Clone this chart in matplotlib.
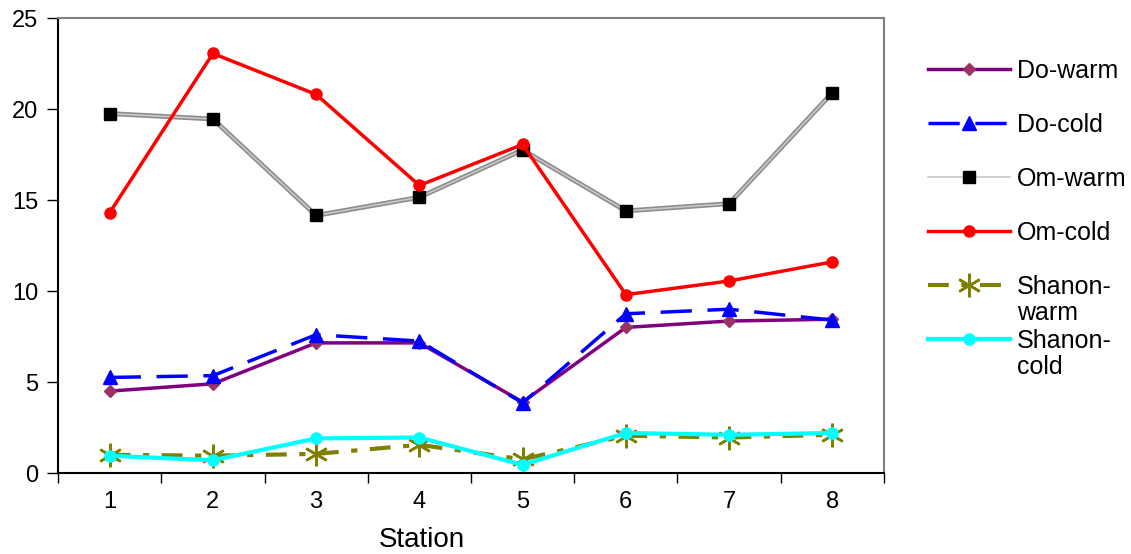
import matplotlib
matplotlib.use("Agg")
import matplotlib.pyplot as plt

plt.rcParams['font.family'] = ['Liberation Sans', 'DejaVu Sans']

stations = [1, 2, 3, 4, 5, 6, 7, 8]
do_warm = [4.5, 4.9, 7.15, 7.15, 3.9, 8.0, 8.35, 8.45]
do_cold = [5.25, 5.35, 7.6, 7.25, 3.85, 8.75, 9.0, 8.4]
om_warm = [19.75, 19.45, 14.15, 15.15, 17.75, 14.4, 14.8, 20.9]
om_cold = [14.3, 23.05, 20.8, 15.8, 18.05, 9.8, 10.55, 11.6]
shanon_warm = [1.0, 0.95, 1.05, 1.55, 0.75, 2.05, 1.95, 2.1]
shanon_cold = [0.95, 0.7, 1.9, 1.95, 0.45, 2.2, 2.1, 2.2]

fig = plt.figure(figsize=(11.31, 5.54), dpi=100)
ax = fig.add_axes([0.0513, 0.1462, 0.7303, 0.8213])

# category positions: stations sit in the middle of each slot
x = [s - 0.5 for s in stations]

ax.plot(x, do_warm, color='#800080', lw=2.5, marker='D', ms=6.5,
        mfc='#993366', mec='#993366', label='Do-warm')
ax.plot(x, do_cold, color='#0000ff', lw=2.5, dashes=(9, 4.5), marker='^', ms=10,
        mfc='#0000ff', mec='#0000ff', label='Do-cold')
ax.plot(x, om_warm, color='#8c8c8c', lw=3.5, zorder=2)
ax.plot(x, om_warm, color='#c8c8c8', lw=1.2, marker='s', ms=9,
        mfc='black', mec='black', label='Om-warm', zorder=2)
ax.plot(x, om_cold, color='#ff0000', lw=2.5, marker='o', ms=8,
        mfc='#ff0000', mec='#ff0000', label='Om-cold')
ax.plot(x, shanon_warm, color='#808000', lw=3, dashes=(5, 3, 1.5, 3),
        marker=(6, 2, 0), ms=17, mew=1.8, mec='#808000', label='Shanon-')
ax.plot(x, shanon_cold, color='#00ffff', lw=3, marker='o', ms=8,
        mfc='#00ffff', mec='#00ffff', label='Shanon-')

ax.set_xlim(0, 8)
ax.set_ylim(0, 25)
ax.set_xticks(range(0, 9))
ax.set_xticklabels([])
ax.set_xticks(x, minor=True)
ax.set_xticklabels([str(s) for s in stations], minor=True, fontsize=17)
ax.tick_params(axis='x', which='major', direction='out', length=7, width=1)
ax.tick_params(axis='x', which='minor', length=0, pad=13)
ax.set_yticks([0, 5, 10, 15, 20, 25])
ax.tick_params(axis='y', direction='out', length=8, width=1, labelsize=17, pad=6)

ax.spines['left'].set_color('black')
ax.spines['bottom'].set_color('black')
ax.spines['top'].set_color('#808080')
ax.spines['right'].set_color('#808080')
for sp in ax.spines.values():
    sp.set_linewidth(1.5)

ax.set_xlabel('Station', fontsize=20)
ax.xaxis.set_label_coords(0.441, -0.118)

leg = fig.legend(loc='upper left', bbox_to_anchor=(0.8006, 0.935), frameon=False,
                 fontsize=18, handlelength=3.3, handletextpad=0.25,
                 labelspacing=1.2, numpoints=1)

# second lines of the wrapped Shanon labels
fig.canvas.draw()
texts = leg.get_texts()
for t, word in [(texts[4], 'warm'), (texts[5], 'cold')]:
    bb = t.get_window_extent()
    fig.text(bb.x0 / fig.bbox.width, (bb.y0 - 26) / fig.bbox.height, word,
             fontsize=18, va='bottom', ha='left')

fig.savefig('out.png', dpi=100)
